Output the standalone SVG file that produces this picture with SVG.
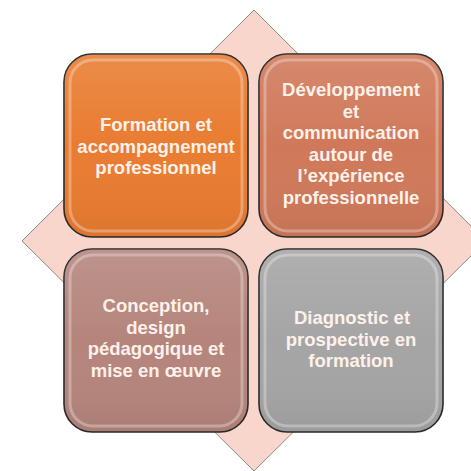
<svg xmlns="http://www.w3.org/2000/svg" width="471" height="471" viewBox="0 0 471 471">
<style>
.box{stroke:#2a2a2a;stroke-width:1.6}
.gl{fill:none;stroke:#ffffff;stroke-width:3;opacity:0.3}
.t{font-family:"Liberation Sans",Arial,sans-serif;font-weight:bold;font-size:18.5px;fill:#fdf1ea;text-anchor:middle}
</style>
<defs>
<linearGradient id="sh" x1="0" y1="0" x2="0" y2="1">
<stop offset="0" stop-color="#ffffff" stop-opacity="0.12"/>
<stop offset="0.5" stop-color="#ffffff" stop-opacity="0"/>
<stop offset="1" stop-color="#000000" stop-opacity="0.06"/>
</linearGradient>
</defs>
<rect width="471" height="471" fill="#ffffff"/>
<polygon points="254,10 486,241 254,471 22,241" fill="#f8d6cb" stroke="#8a8a8a" stroke-width="1"/>
<g id="n1">
<rect class="box" x="64" y="54" width="184" height="183" rx="28" fill="#e97c31"/>
<rect x="64" y="54" width="184" height="183" rx="28" fill="url(#sh)"/>
<rect class="gl" x="70" y="60" width="172" height="171" rx="23"/>
<text class="t" x="156" y="131">Formation et</text>
<text class="t" x="156" y="152.5">accompagnement</text>
<text class="t" x="156" y="174">professionnel</text>
</g>
<g id="n2">
<rect class="box" x="259" y="54" width="184" height="183" rx="28" fill="#d0795a"/>
<rect x="259" y="54" width="184" height="183" rx="28" fill="url(#sh)"/>
<rect class="gl" x="265" y="60" width="172" height="171" rx="23"/>
<text class="t" x="351" y="96">Développement</text>
<text class="t" x="351" y="117.6">et</text>
<text class="t" x="351" y="139.2">communication</text>
<text class="t" x="351" y="160.8">autour de</text>
<text class="t" x="351" y="182.4">l’expérience</text>
<text class="t" x="351" y="204">professionnelle</text>
</g>
<g id="n3">
<rect class="box" x="64" y="249" width="184" height="183" rx="28" fill="#b5857c"/>
<rect x="64" y="249" width="184" height="183" rx="28" fill="url(#sh)"/>
<rect class="gl" x="70" y="255" width="172" height="171" rx="23"/>
<text class="t" x="156" y="312">Conception,</text>
<text class="t" x="156" y="333.5">design</text>
<text class="t" x="156" y="355">pédagogique et</text>
<text class="t" x="156" y="376.5">mise en œuvre</text>
</g>
<g id="n4">
<rect class="box" x="259" y="249" width="184" height="183" rx="28" fill="#a5a5a5"/>
<rect x="259" y="249" width="184" height="183" rx="28" fill="url(#sh)"/>
<rect class="gl" x="265" y="255" width="172" height="171" rx="23"/>
<text class="t" x="352" y="324">Diagnostic et</text>
<text class="t" x="351" y="345.5">prospective en</text>
<text class="t" x="351" y="367">formation</text>
</g>
<g id="connectors"></g>
</svg>
